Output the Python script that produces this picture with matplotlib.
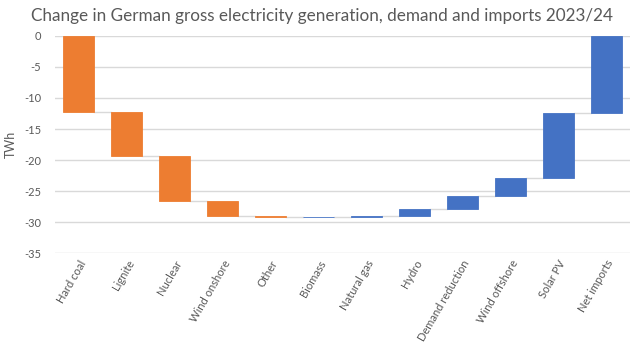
import matplotlib.pyplot as plt
import numpy as np

# Waterfall data (TWh change 2023 -> 2024)
categories = ['Hard coal', 'Lignite', 'Nuclear', 'Wind onshore', 'Other', 'Biomass',
              'Natural gas', 'Hydro', 'Demand reduction', 'Wind offshore', 'Solar PV', 'Net imports']
changes = [-12.2, -7.2, -7.2, -2.3, -0.3, 0.1, 0.2, 1.1, 2.1, 2.9, 10.3, 12.5]
y_ticks = [0, -5, -10, -15, -20, -25, -30, -35]

orange = '#ED7D31'
blue = '#4472C4'
grid_col = '#D9D9D9'
text_col = '#595959'

plt.rcParams['font.family'] = ['Lato', 'DejaVu Sans']

fig = plt.figure(figsize=(6.39, 3.57), dpi=100)
ax = fig.add_axes([0.086, 0.29, 0.9, 0.61])

ends = np.cumsum(changes)
starts = ends - np.array(changes)
x = np.arange(len(categories))
width = 0.65
colors = [orange if c < 0 else blue for c in changes]

# thin edge so the tiny changes still show as a line
ax.bar(x, np.array(changes), width, bottom=starts, color=colors,
       edgecolor=colors, linewidth=0.6, zorder=3)

# connector lines between bars
for i in range(len(categories) - 1):
    ax.plot([x[i] + width / 2, x[i + 1] - width / 2], [ends[i], ends[i]],
            color=grid_col, linewidth=1, zorder=2)

ax.set_xlim(-0.5, len(categories) - 0.5)
ax.set_ylim(-35, 0)
ax.set_yticks(y_ticks)
ax.set_yticklabels([str(v) for v in y_ticks])
ax.yaxis.grid(True, color=grid_col, linewidth=1, zorder=0)
ax.set_axisbelow(True)
for s in ax.spines.values():
    s.set_visible(False)
ax.tick_params(axis='both', length=0, colors=text_col, labelsize=8)
ax.tick_params(axis='y', pad=10)

ax.set_xticks(x)
ax.set_xticklabels(categories, rotation=60, ha='right', rotation_mode='anchor')

ax.set_ylabel('TWh', color=text_col, fontsize=9, labelpad=5)
fig.text(0.048, 0.955, 'Change in German gross electricity generation, demand and imports 2023/24',
         fontsize=12.3, color=text_col, ha='left', va='center')

plt.savefig('out.png')
plt.close()
